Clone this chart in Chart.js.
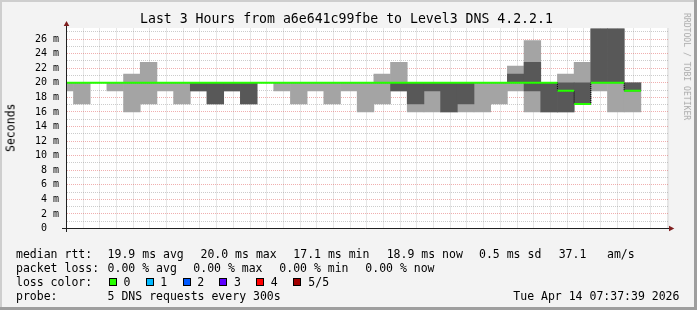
<!DOCTYPE html>
<html>
<head>
<meta charset="utf-8">
<script src="https://cdn.jsdelivr.net/npm/chart.js@4.4.1/dist/chart.umd.min.js"></script>
<style>
html,body{margin:0;padding:0;background:#f3f3f3;}
#wrap{position:relative;width:697px;height:310px;overflow:hidden;}
#c{position:absolute;left:0;top:0;}
.t{position:absolute;white-space:pre;font-family:'DejaVu Sans Mono',monospace;color:#000;}
.lg{font-size:11.5px;line-height:11.5px;}
.sq{position:absolute;width:8px;height:8px;box-sizing:border-box;border:1px solid #000;top:278px;}
</style>
</head>
<body>
<div id="wrap">
<canvas id="c" width="697" height="310"></canvas>
<div class="t" style="left:140px;top:11.8px;font-size:13.2px;line-height:13.2px">Last 3 Hours from a6e641c99fbe to Level3 DNS 4.2.2.1</div>
<div class="t" style="left:-13.25px;top:122.25px;width:48.5px;font-size:11.5px;line-height:11.5px;transform:rotate(-90deg);transform-origin:50% 50%;text-align:center">Seconds</div>
<div class="t" style="left:641.2px;top:54.95px;width:92px;font-size:8.1px;line-height:8.1px;color:#aaaaaa;transform:rotate(90deg);transform-origin:50% 50%;text-align:center">RRDTOOL / TOBI OETIKER</div>

<div class="t lg" style="left:16px;top:249.2px">median rtt:</div>
<div class="t lg" style="left:107.6px;top:249.2px">19.9 ms avg</div>
<div class="t lg" style="left:200.5px;top:249.2px">20.0 ms max</div>
<div class="t lg" style="left:293.3px;top:249.2px">17.1 ms min</div>
<div class="t lg" style="left:386.7px;top:249.2px">18.9 ms now</div>
<div class="t lg" style="left:479px;top:249.2px">0.5 ms sd</div>
<div class="t lg" style="left:558.7px;top:249.2px">37.1</div>
<div class="t lg" style="left:607px;top:249.2px">am/s</div>

<div class="t lg" style="left:16px;top:262.8px">packet loss:</div>
<div class="t lg" style="left:107.6px;top:262.8px">0.00 % avg</div>
<div class="t lg" style="left:193.3px;top:262.8px">0.00 % max</div>
<div class="t lg" style="left:279.3px;top:262.8px">0.00 % min</div>
<div class="t lg" style="left:365.3px;top:262.8px">0.00 % now</div>

<div class="t lg" style="left:16px;top:276.8px">loss color:</div>
<div id="losslegend"></div>

<div class="t lg" style="left:16px;top:290.5px">probe:</div>
<div class="t lg" style="left:107.6px;top:290.5px">5 DNS requests every 300s</div>
<div class="t lg" style="left:513.3px;top:290.5px">Tue Apr 14 07:37:39 2026</div>
</div>

<script>
// ---- data (ms) ----
const stepStart = ["04:35","04:40","04:45","04:50","04:55","05:00","05:05","05:10","05:15","05:20",
  "05:25","05:30","05:35","05:40","05:45","05:50","05:55","06:00","06:05","06:10",
  "06:15","06:20","06:25","06:30","06:35","06:40","06:45","06:50","06:55","07:00",
  "07:05","07:10","07:15","07:20","07:25"];
const pingMin = [18.9,17.1,20,18.9,16.0,17.1,18.9,17.1,18.9,17.1,
  18.9,17.1,20,18.9,17.1,18.9,17.1,18.9,16.0,17.1,
  18.9,16.0,16.0,16.0,16.0,16.0,17.1,18.9,16.0,16.0,
  16.0,17.1,18.9,16.0,16.0];
const pingLow = [20,20,20,20,20,20,20,20,18.9,17.1,
  18.9,17.1,20,20,20,20,20,20,20,20,
  18.9,17.1,18.9,16.0,17.1,20,20,20,18.9,16.0,
  16.0,17.1,20,20,18.9];
const pingMedian = [20,20,20,20,20,20,20,20,20,20,
  20,20,20,20,20,20,20,20,20,20,
  20,20,20,20,20,20,20,20,20,20,
  18.9,17.1,20,20,18.9];
const pingHigh = [20,20,20,20,20,20,20,20,20,20,
  20,20,20,20,20,20,20,20,20,20,
  20,20,20,20,20,20,20,21.2,22.8,20,
  20,20,27.5,27.5,20];
const pingMax = [20,20,20,20,21.2,22.8,20,20,20,20,
  20,20,20,20,20,20,20,20,20,21.2,
  22.8,20,20,20,20,20,20,22.3,25.8,20,
  21.2,22.8,27.5,27.5,20];
const xTickLabels = ["04:40","05:00","05:20","05:40","06:00","06:20","06:40","07:00","07:20"];
const yTickLabels = ["0  ","2 m","4 m","6 m","8 m","10 m","12 m","14 m","16 m","18 m","20 m","22 m","24 m","26 m"];
const lossLabels = ["0","1","2","3","4","5/5"];
const lossColors = ["#26ff00","#00b8ff","#0059ff","#5e00ff","#ff0000","#a10000"];

// loss colour legend
(function(){
  const sqX = [108.9,145.5,182.7,219.3,256.0,293.3];
  const lbX = [123.6,160.2,197.3,234.0,270.7,308.3];
  const host = document.getElementById('losslegend');
  lossLabels.forEach((l,i)=>{
    const s = document.createElement('div'); s.className='sq';
    s.style.left = sqX[i]+'px'; s.style.background = lossColors[i]; host.appendChild(s);
    const t = document.createElement('div'); t.className='t lg';
    t.style.left = lbX[i]+'px'; t.style.top='276.8px'; t.textContent = l; host.appendChild(t);
  });
})();

const toMin = s => { const p = s.split(':'); return (+p[0])*60 + (+p[1]); };
const fmt = m => String(Math.floor(m/60)).padStart(2,'0') + ':' + String(m%60).padStart(2,'0');
const STEP = 5;
const X_MIN = 277.903, X_MAX = 458.278, PLOT_W = 602;
const BAR_W = PLOT_W / (X_MAX - X_MIN) * STEP;

const lightData = stepStart.map((s,i)=>({x: toMin(s)+STEP/2, y: pingMin[i]===pingMax[i] ? null : [pingMin[i], pingMax[i]]}));
const darkData  = stepStart.map((s,i)=>({x: toMin(s)+STEP/2, y: pingLow[i]===pingHigh[i] ? null : [pingLow[i], pingHigh[i]]}));
const medianSeg = [];
stepStart.forEach((s,i)=>{
  const t = toMin(s);
  medianSeg.push({x:t, y:pingMedian[i]}, {x:t+STEP, y:pingMedian[i]}, {x:t+STEP, y:null});
});
const medianStep = stepStart.map((s,i)=>({x: toMin(s), y: pingMedian[i]}));
medianStep.push({x: toMin(stepStart[stepStart.length-1])+STEP, y: pingMedian[pingMedian.length-1]});

const MAJ = 'rgba(222,80,80,0.46)';
const MIN = 'rgba(143,143,143,0.46)';
const FONT = {family:"'DejaVu Sans Mono', monospace", size:10};

const decor = {
  id:'decor',
  beforeDraw(chart){
    const ctx = chart.ctx, a = chart.chartArea;
    ctx.save();
    ctx.fillStyle = '#f3f3f3'; ctx.fillRect(0,0,697,310);
    ctx.fillStyle = '#cecece'; ctx.fillRect(0,0,697,2); ctx.fillRect(0,0,2,310);
    ctx.fillStyle = '#9e9e9e'; ctx.fillRect(0,307,697,3); ctx.fillRect(694,0,3,310);
    ctx.fillStyle = '#ffffff';
    ctx.fillRect(Math.floor(a.left), Math.floor(a.top), Math.ceil(a.right-a.left)+1, Math.ceil(a.bottom-a.top)+1);
    ctx.restore();
  },
  afterDraw(chart){
    const ctx = chart.ctx, a = chart.chartArea;
    ctx.save();
    ctx.strokeStyle = '#202020'; ctx.lineWidth = 1;
    ctx.beginPath();
    ctx.moveTo(a.left-4.5, a.bottom); ctx.lineTo(a.right+1, a.bottom);
    ctx.moveTo(a.left, a.bottom+3.5); ctx.lineTo(a.left, a.top-3);
    ctx.stroke();
    ctx.fillStyle = '#7f1f1f';
    ctx.beginPath();
    ctx.moveTo(a.right+0.5, a.bottom-2.8); ctx.lineTo(a.right+0.5, a.bottom+2.8); ctx.lineTo(a.right+5.8, a.bottom); ctx.closePath(); ctx.fill();
    ctx.beginPath();
    ctx.moveTo(a.left-2.8, a.top-2.5); ctx.lineTo(a.left+2.8, a.top-2.5); ctx.lineTo(a.left, a.top-7.5); ctx.closePath(); ctx.fill();
    ctx.restore();
  }
};

new Chart(document.getElementById('c'), {
  type: 'line',
  data: {
    datasets: [
      {type:'line', data: medianSeg, borderColor: lossColors[0], borderWidth: 2, borderCapStyle:'butt',
       pointRadius: 0, spanGaps: false, tension: 0, order: 0, clip: 0},
      {type:'line', data: medianStep, borderColor: '#000000', borderWidth: 1, borderDash:[1,1],
       stepped: true, pointRadius: 0, tension: 0, order: 1, clip: 0},
      {type:'bar', data: darkData, backgroundColor: '#585858', borderWidth: 0,
       barThickness: BAR_W, grouped: false, order: 2},
      {type:'bar', data: lightData, backgroundColor: '#a4a4a4', borderWidth: 0,
       barThickness: BAR_W, grouped: false, order: 3}
    ]
  },
  options: {
    responsive: false,
    animation: false,
    devicePixelRatio: 1,
    events: [],
    layout: {padding: {left: 0, top: 28.5, right: 28.5, bottom: 61.5}},
    plugins: {legend:{display:false}, title:{display:false}, tooltip:{enabled:false}},
    scales: {
      x: {
        type: 'linear', min: X_MIN, max: X_MAX, bounds: 'data', offset: false,
        afterFit: s => { s.height = 20; },
        grid: {color: c => (c.tick && Math.round(c.tick.value) % 20 === 0) ? MAJ : MIN, lineWidth: 1, drawTicks: false, offset: false},
        border: {display: false, dash: [1,1]},
        ticks: {stepSize: 5, maxTicksLimit: 1000, includeBounds: false, autoSkip: false, maxRotation: 0, minRotation: 0,
          padding: 3, color: '#000', font: FONT,
          callback: v => { const m = Math.round(v); const l = fmt(m); return xTickLabels.includes(l) ? l : ''; }}
      },
      y: {
        type: 'linear', min: 0, max: 27.45, bounds: 'data',
        afterFit: s => { s.width = 66.5; },
        grid: {color: c => (c.tick && Math.round(c.tick.value) % 2 === 0) ? MAJ : MIN, lineWidth: 1, drawTicks: false},
        border: {display: false, dash: [1,1]},
        ticks: {stepSize: 1, maxTicksLimit: 1000, includeBounds: false, autoSkip: false, padding: 7.5, color: '#000', font: FONT,
          callback: v => { const n = Math.round(v); return n % 2 === 0 ? (yTickLabels[n/2] || '') : ''; }}
      }
    }
  },
  plugins: [decor]
});
</script>
</body>
</html>
